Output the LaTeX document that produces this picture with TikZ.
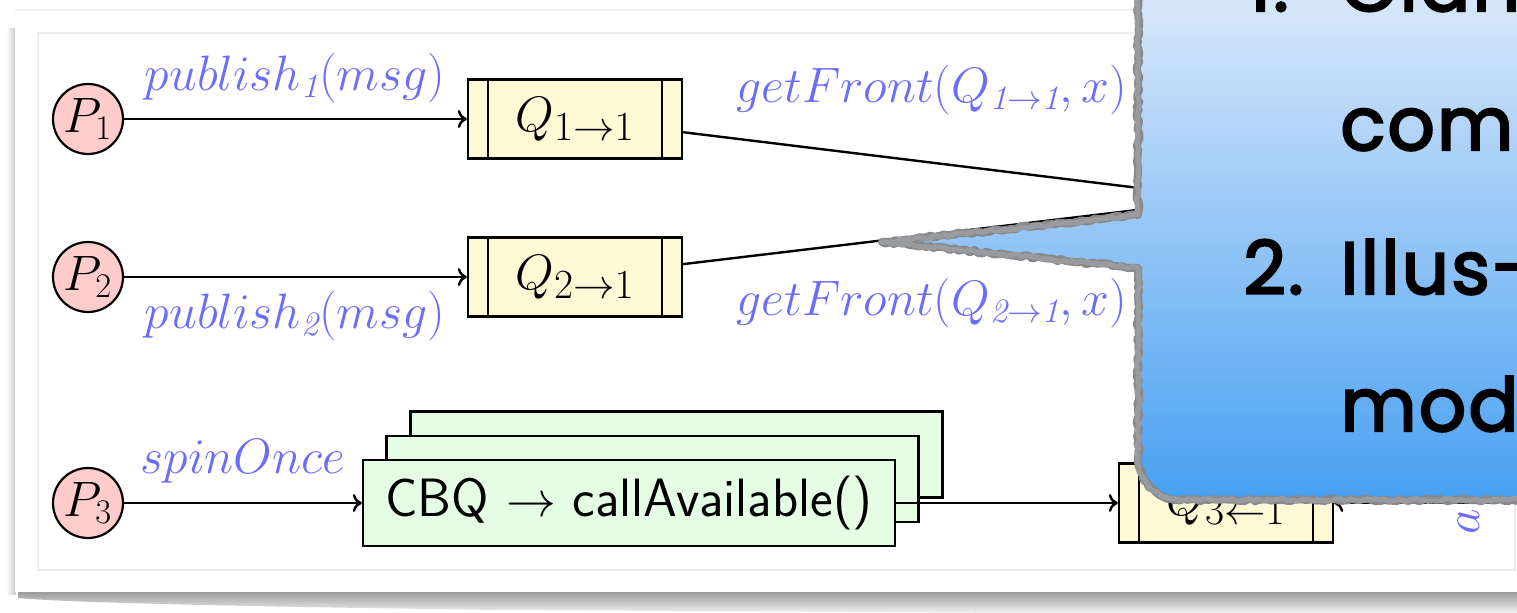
\documentclass[tikz,border=0pt]{standalone}
\usepackage{fontspec}
\newfontfamily\handfont[FakeBold=3, LetterSpace=3]{Poppins}
\usetikzlibrary{decorations.pathmorphing, arrows.meta}
\definecolor{pfill}{RGB}{255,204,204}
\definecolor{qfill}{RGB}{255,249,214}
\definecolor{cfill}{RGB}{229,252,229}
\definecolor{lblue}{RGB}{108,108,250}
\definecolor{chalk}{RGB}{135,137,141}
\definecolor{calltop}{RGB}{224,235,250}
\definecolor{callbot}{RGB}{72,160,242}
\definecolor{framegray}{RGB}{236,236,236}
\tikzset{
  proc/.style={circle, draw, line width=1.1pt, fill=pfill, minimum size=35pt, inner sep=0pt},
  queue/.style={rectangle, draw, line width=1.2pt, fill=qfill, minimum width=107pt, minimum height=39.5pt, inner sep=0pt, font=\fontsize{28}{33}\selectfont},
  cbqbox/.style={rectangle, draw, line width=1.2pt, fill=cfill, minimum width=266pt, minimum height=43pt, inner sep=0pt, font=\sffamily\fontsize{27}{32}\selectfont},
  flow/.style={-{To[length=4.5pt, width=9pt]}, line width=1.2pt},
  link/.style={line width=1.2pt},
  lbl/.style={text=lblue, inner sep=0pt, anchor=base},
  handtext/.style={inner sep=0pt, anchor=base west, font=\handfont\fontsize{37}{44}\selectfont},
  chalkline/.style={draw=chalk, line width=4pt, line join=round, line cap=round, decorate, decoration={random steps, segment length=2pt, amplitude=0.7pt}}
}
\begin{document}
\begin{tikzpicture}[x=0.5pt, y=-0.5pt, font=\fontsize{24.5}{29}\selectfont]
\useasboundingbox (0,0) rectangle (1517,612);
\clip (0,0) rectangle (1517,612);
\fill[white] (0,0) rectangle (1517,612);

% paper sheet with its drop shadow
\shade[top color=gray!85, bottom color=white] (18,590) -- (1540,590) -- (1540,616) -- (500,610) .. controls (200,606) and (60,602) .. (18,598) -- cycle;
\shade[left color=white, right color=gray!45] (6,28) rectangle (16,594);
\fill[white] (15,10) rectangle (1540,592);
\draw[gray!12, line width=0.6pt] (15,10) -- (1540,10);
\draw[framegray, line width=1pt] (38,33) rectangle (1515,570);

% processes
\node[proc] (P1) at (88,119) {$P_1$};
\node[proc] (P2) at (88,277) {$P_2$};
\node[proc] (P3) at (88,503) {$P_3$};

% message queues
\node[queue] (Q1) at (575,119) {$Q_{1\rightarrow1}$};
\node[queue] (Q2) at (575,277) {$Q_{2\rightarrow1}$};
\node[queue] (Q3) at (1226,503) {$Q_{3\leftarrow1}$};
\foreach \q in {Q1,Q2,Q3}{
  \draw[line width=1.2pt] ([xshift=10.5pt]\q.north west) -- ([xshift=10.5pt]\q.south west);
  \draw[line width=1.2pt] ([xshift=-10.5pt]\q.north east) -- ([xshift=-10.5pt]\q.south east);
}

% stacked callback queue
\node[cbqbox] (cbqA) at (676.5,454.5) {};
\node[cbqbox] (cbqB) at (652.5,479) {};
\node[cbqbox] (cbq) at (629,503) {CBQ $\rightarrow$ callAvailable()};

% subscriber side (lies under the callout)
\coordinate (sub) at (1229,199);
\coordinate (subout) at (1495,300);

% connectors
\draw[flow] (P1) -- (Q1);
\draw[flow] (P2) -- (Q2);
\draw[flow] (P3) -- (cbq);
\draw[flow] (cbq) -- (Q3);
\draw[link] (Q1) -- (sub);
\draw[link] (Q2) -- (sub);
\draw[flow] (subout) |- (Q3);

% edge labels
\node[lbl] (l1) at (295,90) {$publish_{\mathit{1}}(msg)$};
\node[lbl] (l2) at (295,328) {$publish_{\mathit{2}}(msg)$};
\node[lbl] (l3) at (243,473) {$spinOnce$};
\node[lbl] (l4) at (932,102) {$getFront(Q_{\mathit{1}\rightarrow\mathit{1}}, x)$};
\node[lbl] (l5) at (932,315) {$getFront(Q_{\mathit{2}\rightarrow\mathit{1}}, x)$};
\node[text=lblue, inner sep=0pt, rotate=90] (l6) at (1469,522) {$a$};

% speech callout
\pgfmathsetseed{7}
\shade[top color=calltop, bottom color=callbot]
  (1138,-30) -- (1138,215) -- (882,242) -- (1138,268) -- (1138,458)
  .. controls (1138,480) and (1158,500) .. (1180,500) -- (1560,500) -- (1560,-30) -- cycle;
\draw[chalkline]
  (1138,-30) -- (1138,215) -- (882,242) -- (1138,268) -- (1138,458)
  .. controls (1138,480) and (1158,500) .. (1180,500) -- (1560,500);
\pgfmathsetseed{23}
\draw[chalkline, line width=2.5pt, draw=chalk!85]
  (1138,-30) -- (1138,215) -- (882,242) -- (1138,268) -- (1138,458)
  .. controls (1138,480) and (1158,500) .. (1180,500) -- (1560,500);

\node[handtext] (n1) at (1247,11) {1.};
\node[handtext] (t1) at (1340,11) {Clarify};
\node[handtext] (t2) at (1340,150) {communication};
\node[handtext] (n2) at (1243,294) {2.};
\node[handtext] (t3) at (1340,294) {Illus-};
\node[handtext] (t4) at (1340,431) {model};
\end{tikzpicture}
\end{document}
